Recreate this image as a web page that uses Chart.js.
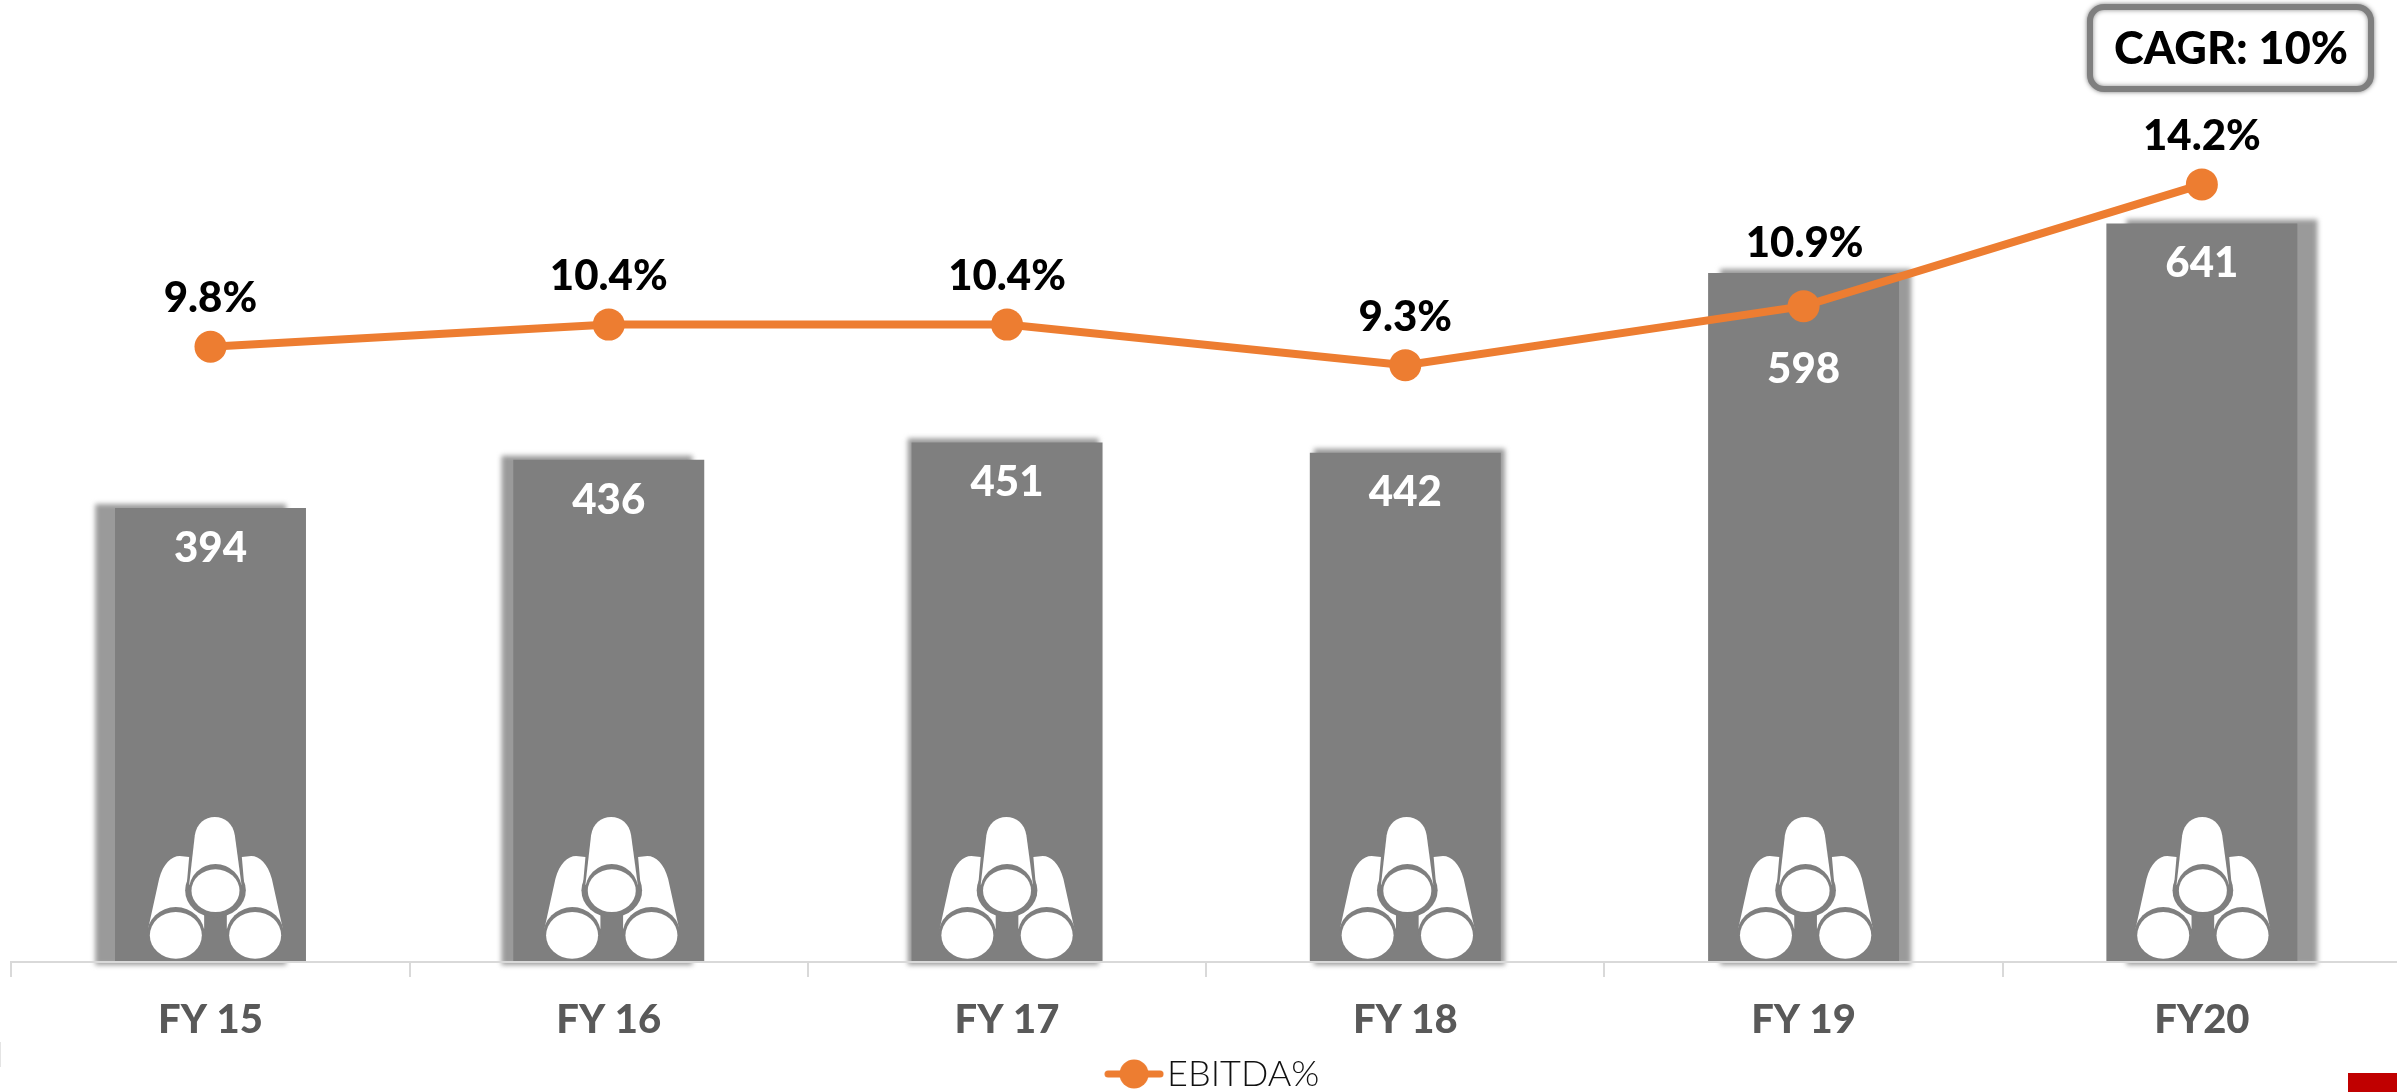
<!DOCTYPE html>
<html>
<head>
<meta charset="utf-8">
<title>EBITDA chart</title>
<script src="https://cdn.jsdelivr.net/npm/chart.js@4"></script>
<style>
html,body{margin:0;padding:0;background:#fff;overflow:hidden;width:2397px;height:1092px}
canvas{display:block}
</style>
</head>
<body>
<canvas id="c" width="2397" height="1092"></canvas>
<script>
const categories = ['FY 15','FY 16','FY 17','FY 18','FY 19','FY20'];
const barValues = [394,436,451,442,598,641];
const ebitdaPct = [9.8,10.4,10.4,9.3,10.9,14.2];
const barLabelDrop = [40,41,40,40,96,40];
const pctLabelRise = [48,48,48,48,63,48];
const iconShift = [5,3,0,2,2,1];
const seriesNames = ['Revenue','EBITDA%'];
const calloutText = 'CAGR: 10%';

const FONT = 'Lato, "Open Sans", sans-serif';
const GREY = '#7f7f7f', ORANGE = '#ed7d31';
const pageCentre = 1199;

function drawIcon(ctx, cx, base) {
  ctx.save();
  ctx.translate(cx, base);
  ctx.scale(1/3, 1/3);
  ctx.translate(-467, -600);
  const side = () => {
    ctx.beginPath();
    ctx.moveTo(265,500); ctx.lineTo(298,350);
    ctx.bezierCurveTo(310,305,335,282,360,282);
    ctx.lineTo(388,285); ctx.lineTo(378,400); ctx.lineTo(433,460); ctx.lineTo(433,500);
    ctx.closePath(); ctx.fill();
  };
  const ell = (x,y,rx,ry,a,b) => { ctx.beginPath(); ctx.ellipse(x,y,rx,ry,0,a||0,b||Math.PI*2); ctx.fill(); };
  ctx.fillStyle = '#fff';
  side();
  ctx.save(); ctx.translate(934,0); ctx.scale(-1,1); side(); ctx.restore();
  ctx.fillStyle = GREY;
  ell(348,520,87,85,Math.PI,Math.PI*2);
  ell(586,520,87,85,Math.PI,Math.PI*2);
  ctx.fillStyle = '#fff';
  ell(348,520,78,70);
  ell(586,520,78,70);
  ctx.fillStyle = GREY;
  ell(467,385,91,81);
  ctx.fillStyle = '#fff';
  ctx.beginPath();
  ctx.moveTo(388,368); ctx.lineTo(405,220);
  ctx.bezierCurveTo(410,185,435,165,465,165);
  ctx.bezierCurveTo(495,165,520,185,525,220);
  ctx.lineTo(545,368); ctx.closePath(); ctx.fill();
  ctx.fillStyle = GREY;
  ell(467,386,80,80);
  ctx.fillStyle = '#fff';
  ell(467,386,72,64);
  ctx.restore();
}

const decor = {
  id:'decor',
  afterLayout(chart) {
    // the axis of the source runs a little past the right edge of the page
    const x = chart.scales.x;
    x.right = 2401; x.width = x.right - x.left; x.configure();
    const lg = chart.legend;
    lg.top += 10; lg.bottom += 10; lg.left += 15; lg.right += 15;
  },
  beforeDatasetsDraw(chart) {
    const ctx = chart.ctx, bars = chart.getDatasetMeta(0).data;
    ctx.save();
    ctx.filter = 'blur(2.5px)';
    ctx.fillStyle = '#9a9a9a';
    bars.forEach(b => {
      const shift = (b.x - pageCentre) * 0.02;
      ctx.fillRect(b.x - b.width/2 + shift, b.y - 4, b.width, b.base - b.y + 7);
    });
    ctx.restore();
  },
  afterDatasetsDraw(chart) {
    const ctx = chart.ctx, bars = chart.getDatasetMeta(0).data, pts = chart.getDatasetMeta(1).data;
    ctx.save();
    ctx.textAlign = 'center';
    ctx.textBaseline = 'middle';
    bars.forEach((b,i) => {
      drawIcon(ctx, b.x + iconShift[i], b.base);
    });
    ctx.font = '900 42px ' + FONT;
    ctx.fillStyle = '#fff';
    bars.forEach((b,i) => ctx.fillText(String(barValues[i]), b.x, b.y + barLabelDrop[i]));
    ctx.fillStyle = '#000';
    pts.forEach((p,i) => ctx.fillText(ebitdaPct[i].toFixed(1) + '%', p.x + (i===4?1:0), p.y - pctLabelRise[i]));

    // callout box
    ctx.save();
    ctx.shadowColor = 'rgba(0,0,0,.45)';
    ctx.shadowBlur = 5;
    ctx.fillStyle = '#fff';
    ctx.strokeStyle = GREY;
    ctx.lineWidth = 6;
    ctx.beginPath();
    ctx.roundRect(2090, 7, 281, 82, 14);
    ctx.fill(); ctx.stroke();
    ctx.restore();
    ctx.font = '900 45px ' + FONT;
    ctx.fillStyle = '#000';
    ctx.fillText(calloutText, 2231, 49);

    // page furniture of the source slide
    ctx.fillStyle = '#c00000';
    ctx.fillRect(2348, 1073, 49, 19);
    ctx.fillStyle = '#e4e4e4';
    ctx.fillRect(0, 1042, 1, 25);
    ctx.restore();
  }
};

function legendMark() {
  const c = document.createElement('canvas');
  c.width = 60; c.height = 30;
  const g = c.getContext('2d');
  g.strokeStyle = ORANGE; g.lineWidth = 7; g.lineCap = 'round';
  g.beginPath(); g.moveTo(4,15); g.lineTo(56,15); g.stroke();
  g.fillStyle = ORANGE;
  g.beginPath(); g.arc(30,15,14.5,0,Math.PI*2); g.fill();
  return c;
}
const mark = legendMark();

new Chart(document.getElementById('c'), {
  data: {
    labels: categories,
    datasets: [
      { type:'bar', label:seriesNames[0], data:barValues, backgroundColor:GREY, yAxisID:'y', order:2,
        categoryPercentage:1, barPercentage:0.4795 },
      { type:'line', label:seriesNames[1], data:ebitdaPct, borderColor:ORANGE, backgroundColor:ORANGE, yAxisID:'y1', order:1,
        borderWidth:8, pointRadius:16, pointBackgroundColor:ORANGE, pointBorderWidth:0, tension:0, clip:false }
    ]
  },
  options: {
    responsive:false, animation:false,
    layout:{ autoPadding:false, padding:{ left:11.35, right:0, top:0, bottom:0 } },
    plugins:{
      tooltip:{enabled:false},
      legend:{
        position:'bottom',
        labels:{
          usePointStyle:true, pointStyleWidth:30, padding:0, color:'#111',
          font:{ family:FONT, size:36, weight:'300' },
          generateLabels(chart){
            return [{ text:seriesNames[1], pointStyle:mark, datasetIndex:1, fillStyle:ORANGE, strokeStyle:ORANGE, lineWidth:0, fontColor:'#111' }];
          }
        }
      }
    },
    scales:{
      x:{
        afterFit(s){ s.height = 84; },
        grid:{ drawOnChartArea:false, drawTicks:true, tickLength:15, color:'#d9d9d9', lineWidth:2, z:1 },
        border:{ color:'#d9d9d9', width:2, z:1 },
        ticks:{ color:'#595959', padding:19, autoSkip:false, maxRotation:0, font:{ family:FONT, size:40, weight:'900' } }
      },
      y:{ display:false, min:0, max:835 },
      y1:{ display:false, min:-6.88, max:19.2, position:'right', grid:{drawOnChartArea:false} }
    }
  },
  plugins:[decor]
});
</script>
</body>
</html>
